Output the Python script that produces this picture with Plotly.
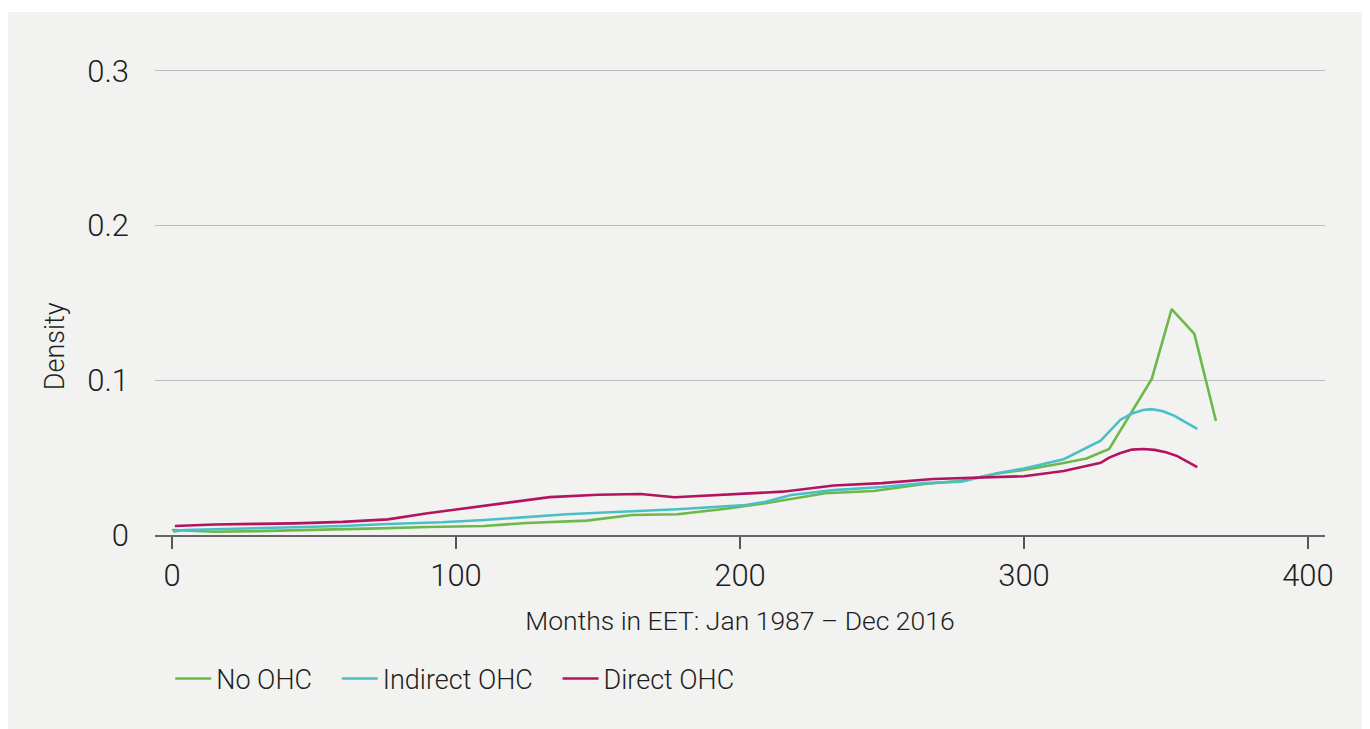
import plotly.graph_objects as go

# Months in EET and estimated densities for each occupational health care group
no_ohc_x = [0, 15, 30, 45, 60, 73, 90, 110, 125, 146, 162, 178, 195, 209, 230, 247, 265, 278, 291, 300, 314, 322, 330, 345, 352, 360, 367.6]
no_ohc_y = [0.0032, 0.0021, 0.0025, 0.003, 0.0035, 0.0043, 0.0052, 0.0058, 0.0078, 0.0093, 0.0129, 0.0134, 0.017, 0.0205, 0.027, 0.0284, 0.033, 0.0351, 0.0399, 0.042, 0.0465, 0.0495, 0.0556, 0.1009, 0.146, 0.130, 0.0737]

indirect_x = [0.4, 4, 15, 30, 43, 60, 76, 95, 110, 125, 139, 160, 178, 202, 209, 218, 233, 250, 265, 278, 291, 300, 314, 327, 330, 334, 338, 342, 345, 349, 353, 357, 361]
indirect_y = [0.0021, 0.0032, 0.0037, 0.0043, 0.0048, 0.0058, 0.0071, 0.0082, 0.0097, 0.0115, 0.0134, 0.0152, 0.0166, 0.0194, 0.0215, 0.0259, 0.029, 0.031, 0.0335, 0.0345, 0.040, 0.043, 0.049, 0.061, 0.067, 0.0745, 0.0785, 0.0808, 0.0813, 0.080, 0.077, 0.073, 0.0685]

direct_x = [1, 15, 30, 43, 60, 76, 90, 100, 115, 133, 150, 165, 177, 202, 215, 233, 250, 268, 280, 291, 300, 314, 327, 330, 334, 338, 342, 346, 350, 354, 358, 361]
direct_y = [0.0058, 0.0068, 0.0072, 0.0075, 0.0085, 0.0101, 0.014, 0.0165, 0.0205, 0.0245, 0.026, 0.0265, 0.0244, 0.0265, 0.028, 0.032, 0.0335, 0.0362, 0.0368, 0.0373, 0.038, 0.0414, 0.0466, 0.050, 0.053, 0.0552, 0.0556, 0.055, 0.0535, 0.051, 0.047, 0.0438]

x_ticks = [0, 100, 200, 300, 400]
y_ticks = [0, 0.1, 0.2, 0.3]
y_tick_text = ["0", "0.1", "0.2", "0.3"]

FONT = "Roboto"
TEXT = "#1e1e1e"
BG = "#f2f2f0"
PAD = "\u00a0\u00a0\u00a0"  # extra room between legend entries

fig = go.Figure()
series = [
    ("No OHC", no_ohc_x, no_ohc_y, "#6cb94a"),
    ("Indirect OHC", indirect_x, indirect_y, "#4bbfc6"),
    ("Direct OHC", direct_x, direct_y, "#b3145f"),
]
for name, xs, ys, color in series:
    fig.add_trace(go.Scatter(x=xs, y=ys, mode="lines", name=name + PAD,
                             line=dict(color=color, width=2.6)))

fig.update_layout(
    width=1370, height=729,
    margin=dict(l=155, r=45, t=63, b=194),
    paper_bgcolor="white",
    plot_bgcolor=BG,
    font=dict(family=FONT, color=TEXT, weight=300),
    showlegend=True,
    legend=dict(orientation="h", x=0.013, y=-0.305, xanchor="left", yanchor="middle",
                font=dict(size=27, family=FONT, color=TEXT, weight=300),
                bgcolor="rgba(0,0,0,0)", itemwidth=36),
    shapes=[dict(type="rect", xref="paper", yref="paper",
                 x0=-0.1256, x1=1.0316, y0=-0.411, y1=1.108,
                 fillcolor=BG, line=dict(width=0), layer="below")],
    annotations=[dict(text="Density", xref="paper", yref="paper",
                      x=-0.0855, y=0.4, textangle=-90, showarrow=False,
                      xanchor="center", yanchor="middle",
                      font=dict(size=27, family=FONT, color=TEXT, weight=300))],
)

fig.update_xaxes(
    range=[-6, 406], tickvals=x_ticks, ticks="outside", ticklen=12,
    tickcolor="#555", tickwidth=1.5,
    showline=True, linecolor="#666", linewidth=1.5,
    showgrid=False, zeroline=False,
    tickfont=dict(size=31, family=FONT, color=TEXT, weight=300),
    title=dict(text="Months in EET: Jan 1987 – Dec 2016", standoff=18,
               font=dict(size=26.5, family=FONT, color=TEXT, weight=300)),
)
fig.update_yaxes(
    range=[0, 0.305], tickvals=y_ticks, ticktext=y_tick_text,
    showgrid=True, gridcolor="#bdbdbd", gridwidth=1,
    zeroline=False, showline=False, ticks="", ticklabelstandoff=25,
    tickfont=dict(size=31, family=FONT, color=TEXT, weight=300),
)

fig.write_html("out.html")
